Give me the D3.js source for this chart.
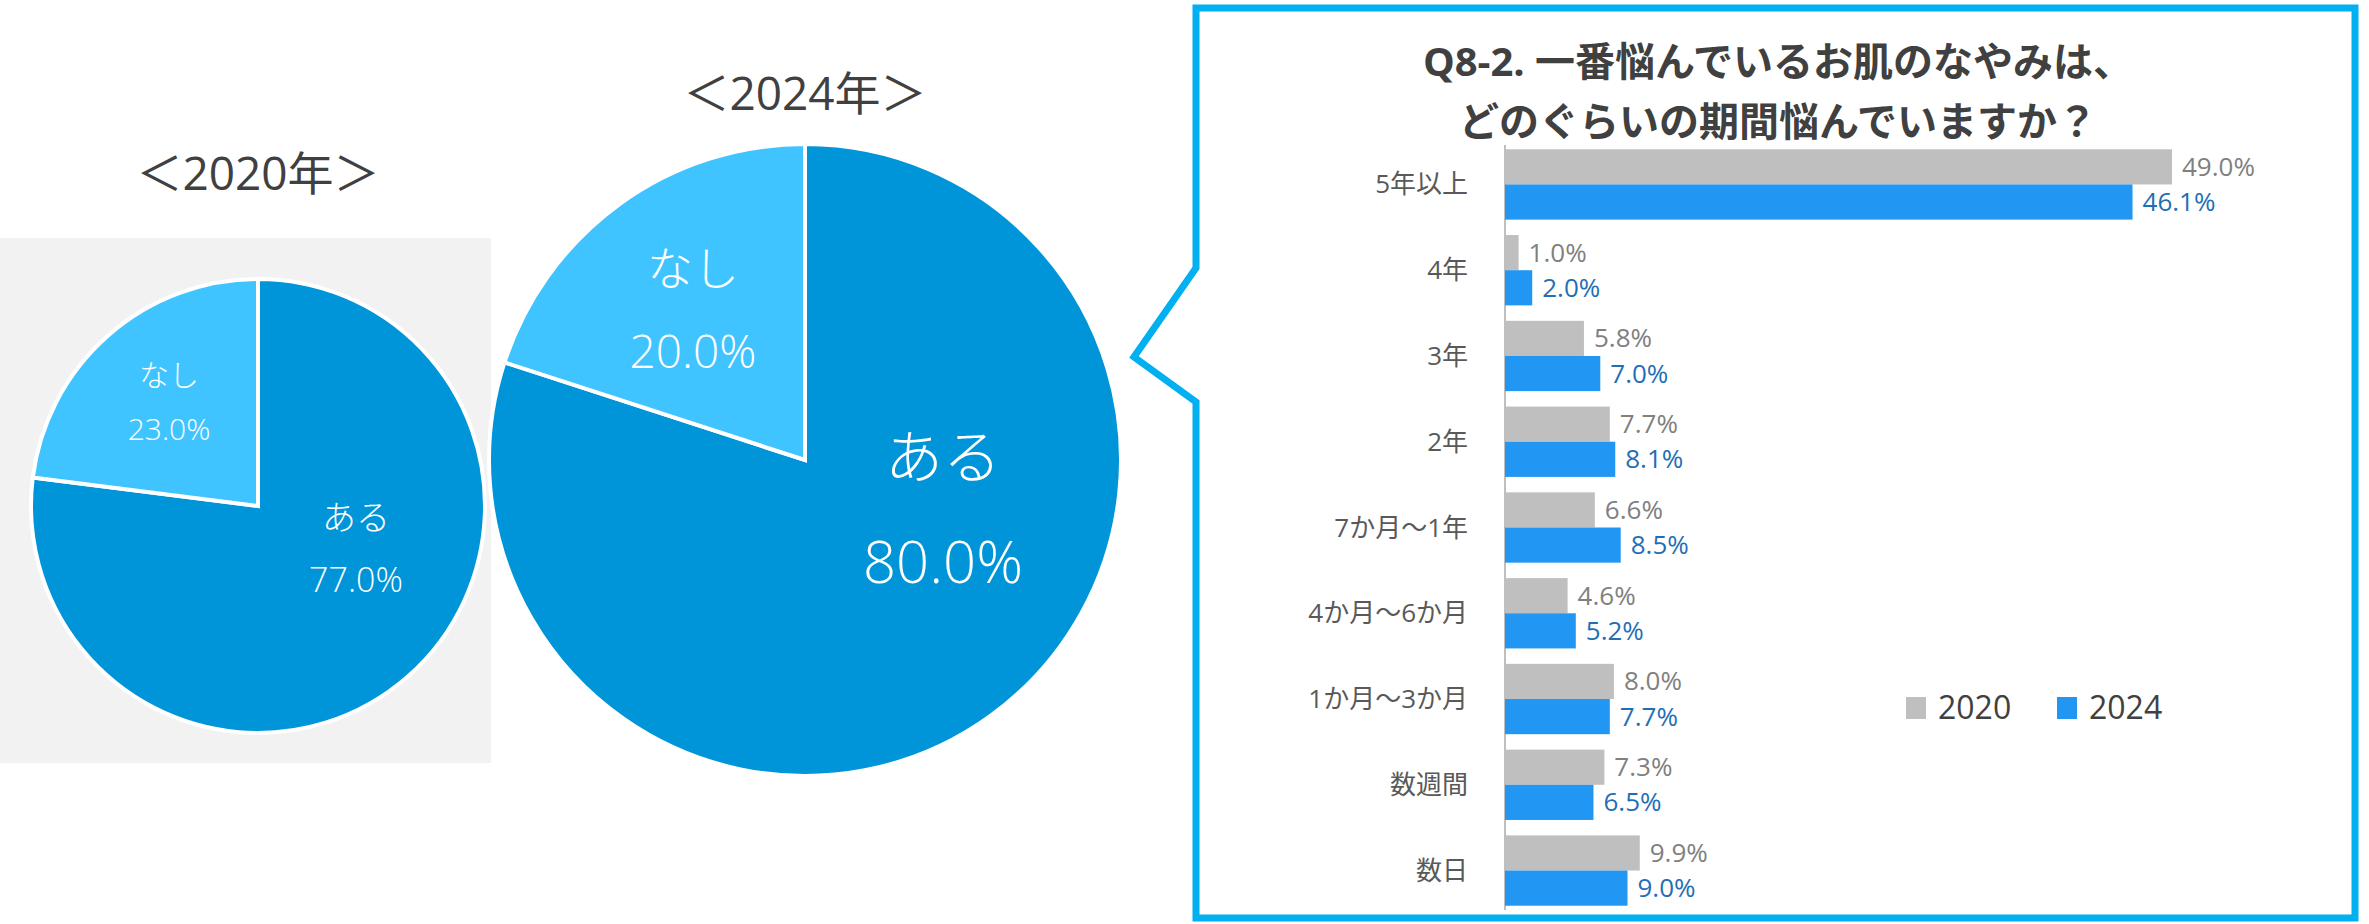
<!DOCTYPE html>
<html><head><meta charset="utf-8">
<script src="https://cdn.jsdelivr.net/npm/d3@7"></script>
<style>body{margin:0;background:#fff}text{font-family:"Open Sans","Noto Sans CJK JP",sans-serif}</style>
</head><body>
<svg id="c" width="2369" height="924"></svg>
<script>
var pieLabels = ["ある","なし"];
var pie2020 = [77.0, 23.0];
var pie2024 = [80.0, 20.0];
var categories = ["5年以上","4年","3年","2年","7か月～1年","4か月～6か月","1か月～3か月","数週間","数日"];
var values2020 = [49.0,1.0,5.8,7.7,6.6,4.6,8.0,7.3,9.9];
var values2024 = [46.1,2.0,7.0,8.1,8.5,5.2,7.7,6.5,9.0];
var seriesNames = ["2020","2024"];

var svg = d3.select("#c");
var pieColors = ["#0095d9","#40c4ff"];

// 2020 background
svg.append("rect").attr("x",0).attr("y",238).attr("width",491).attr("height",525).attr("fill","#f2f2f2");

function drawPie(vals, cx, cy, r, title, titleY, fs1, fs2, offs){
  var g = svg.append("g").attr("transform","translate("+cx+","+cy+")");
  var arcs = d3.pie().sort(null)(vals);
  var arc = d3.arc().innerRadius(0).outerRadius(r);
  g.selectAll("path").data(arcs).enter().append("path")
    .attr("d",arc).attr("fill",function(d,i){return pieColors[i]})
    .attr("stroke","#fff").attr("stroke-width",4);
  arcs.forEach(function(d,i){
    var fs = i==0?fs1:fs2;
    var t = g.append("text").attr("text-anchor","middle").attr("fill","#fff").attr("font-size",fs).attr("font-weight",300);
    t.append("tspan").attr("x",offs[i][0]).attr("y",offs[i][1]-fs*0.55).text(pieLabels[i]);
    t.append("tspan").attr("x",offs[i][0]).attr("y",offs[i][1]+fs*1.25).text(vals[i].toFixed(1)+"%");
  });
  svg.append("text").attr("x",cx).attr("y",titleY).attr("text-anchor","middle")
    .attr("font-size",46).attr("fill","#404040").text("＜"+title+"年＞");
}
drawPie(pie2020,258,506,227,"2020",190,34,30,[[98,43],[-89,-104]]);
drawPie(pie2024,805,460,316,"2024",110,58,46,[[138,50],[-112,-150]]);

// callout box
var bx0=1196,by0=8,bx1=2355,by1=918;
svg.append("path").attr("d","M"+bx0+","+by0+"H"+bx1+"V"+by1+"H"+bx0+"V402L1134,357L"+bx0+",268Z")
  .attr("fill","#fff").attr("stroke","#00b0f0").attr("stroke-width",7).attr("stroke-linejoin","miter");

svg.append("text").attr("x",1778).attr("y",76).attr("text-anchor","middle").attr("font-size",40)
  .attr("font-weight","bold").attr("fill","#404040").text("Q8-2. 一番悩んでいるお肌のなやみは、");
svg.append("text").attr("x",1778).attr("y",136).attr("text-anchor","middle").attr("font-size",40)
  .attr("font-weight","bold").attr("fill","#404040").text("どのぐらいの期間悩んでいますか？");

var x = d3.scaleLinear().domain([0,49]).range([1505,2172]);
var y = d3.scaleBand().domain(categories).range([145,910]).paddingInner(0.18).paddingOuter(0.05);
var bh = y.bandwidth()/2;

svg.append("line").attr("x1",1505).attr("x2",1505).attr("y1",145).attr("y2",910).attr("stroke","#bfbfbf").attr("stroke-width",2);

var series = [{vals:values2020,color:"#bfbfbf",label:"#808080",off:0},{vals:values2024,color:"#2196f3",label:"#1f6fb5",off:bh}];
series.forEach(function(s){
  svg.selectAll(null).data(categories).enter().append("rect")
    .attr("x",x(0)).attr("y",function(d){return y(d)+s.off})
    .attr("width",function(d,i){return x(s.vals[i])-x(0)}).attr("height",bh).attr("fill",s.color);
  svg.selectAll(null).data(categories).enter().append("text")
    .attr("x",function(d,i){return x(s.vals[i])+10}).attr("y",function(d){return y(d)+s.off+bh/2+9})
    .attr("font-size",26).attr("fill",s.label).text(function(d,i){return s.vals[i].toFixed(1)+"%"});
});
svg.selectAll(null).data(categories).enter().append("text")
  .attr("x",1468).attr("y",function(d){return y(d)+bh+9}).attr("text-anchor","end")
  .attr("font-size",26).attr("fill","#595959").text(function(d){return d});

// legend
[["#bfbfbf",1906],["#2196f3",2057]].forEach(function(l,i){
  svg.append("rect").attr("x",l[1]).attr("y",697).attr("width",20).attr("height",22).attr("fill",l[0]);
  svg.append("text").attr("x",l[1]+32).attr("y",719).attr("font-size",32).attr("fill","#404040").text(seriesNames[i]);
});
</script>
</body></html>
